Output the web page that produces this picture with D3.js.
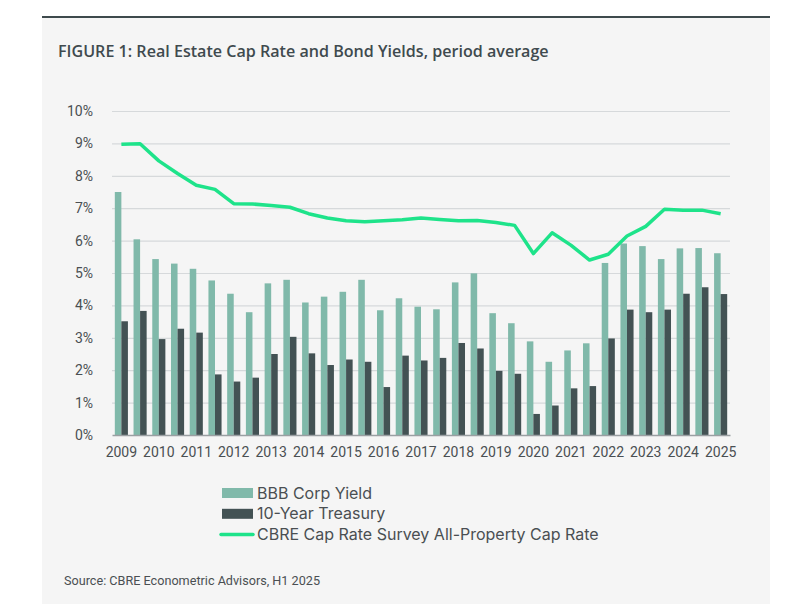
<!DOCTYPE html>
<html><head>
<meta charset="utf-8">
<script src="https://d3js.org/d3.v7.min.js"></script>
<style>
  body { margin: 0; background: #fff; }
  .grid line { stroke: #d6d9db; stroke-width: 1.2; }
  .grid .domain { stroke: none; }
  .tick text { fill: #4a4f52; font-family: Roboto, sans-serif; font-size: 14px; }
  .axis .domain { stroke: #9a9fa2; stroke-width: 1.5; }
  .axis .tick line { stroke: none; }
</style>
</head>
<body>
<svg id="chart" width="800" height="604"></svg>
<script>
// half-year periods, 2009 H1 .. 2025 H1
let periods = [];
for (let y = 2009; y <= 2025; y++) {
  periods.push(y + " H1");
  if (y < 2025) periods.push(y + " H2");
}
let yearLabels = ["2009","2010","2011","2012","2013","2014","2015","2016","2017",
                  "2018","2019","2020","2021","2022","2023","2024","2025"];

let bbbYield = [7.50, 6.04, 5.43, 5.29, 5.13, 4.77, 4.36, 3.79, 4.68, 4.79, 4.09, 4.27,
                4.42, 4.79, 3.85, 4.22, 3.96, 3.88, 4.71, 4.99, 3.76, 3.45, 2.89, 2.26,
                2.61, 2.83, 5.31, 5.91, 5.83, 5.43, 5.76, 5.77, 5.61];
let treasury = [3.51, 3.83, 2.96, 3.28, 3.16, 1.87, 1.65, 1.77, 2.50, 3.03, 2.52, 2.16,
                2.33, 2.26, 1.48, 2.45, 2.30, 2.38, 2.84, 2.67, 1.98, 1.89, 0.65, 0.91,
                1.44, 1.51, 2.98, 3.87, 3.79, 3.87, 4.36, 4.56, 4.35];
let capRate = [8.97, 8.99, 8.46, 8.07, 7.71, 7.58, 7.14, 7.13, 7.08, 7.03, 6.83, 6.70,
               6.61, 6.58, 6.61, 6.64, 6.70, 6.65, 6.61, 6.62, 6.56, 6.47, 5.60, 6.24,
               5.86, 5.40, 5.58, 6.14, 6.44, 6.97, 6.94, 6.94, 6.83];
let yTicks = [0, 1, 2, 3, 4, 5, 6, 7, 8, 9, 10];

let seriesNames = ["BBB Corp Yield", "10-Year Treasury", "CBRE Cap Rate Survey All-Property Cap Rate"];
let colors = { bbb: "#80b9aa", tsy: "#435254", cap: "#1ee38a" };

let svg = d3.select("svg#chart");

// panel background + top rule
svg.append("rect").attr("x", 42).attr("y", 17).attr("width", 728).attr("height", 587)
  .attr("fill", "#f5f5f5");
svg.append("line").attr("x1", 42).attr("x2", 770).attr("y1", 17).attr("y2", 17)
  .attr("stroke", "#3e4a4d").attr("stroke-width", 2);

svg.append("text").attr("x", 58).attr("y", 57)
  .style("font-family", "'Open Sans', sans-serif").style("font-size", "16.1px").style("font-weight", 600)
  .style("fill", "#3f4a4e")
  .text("FIGURE 1: Real Estate Cap Rate and Bond Yields, period average");

let margin = { left: 112, top: 111, right: 70, bottom: 169 };
let chartWidth = 800 - margin.left - margin.right;
let chartHeight = 604 - margin.top - margin.bottom;

let chart = svg.append("g").attr("transform", "translate(" + margin.left + "," + margin.top + ")");

let x0 = d3.scaleBand().domain(periods).range([0, chartWidth]).paddingInner(0.3).paddingOuter(0.15);
let x1 = d3.scaleBand().domain(["bbb", "tsy"]).range([0, x0.bandwidth()]);
let y = d3.scaleLinear().domain([0, 10]).range([chartHeight, 0]);

// gridlines
chart.append("g").attr("class", "grid")
  .call(d3.axisLeft(y).tickValues(yTicks.slice(1)).tickSize(-chartWidth).tickFormat(""));

// y labels
let yAxis = chart.append("g").attr("class", "axis")
  .attr("transform", "translate(-16,0)")
  .call(d3.axisLeft(y).tickValues(yTicks).tickSize(0).tickFormat(d => d + "%"));
yAxis.select(".domain").remove();

// bars
let groups = chart.selectAll(".period").data(periods).enter().append("g")
  .attr("transform", d => "translate(" + x0(d) + ",0)");
groups.append("rect")
  .attr("x", x1("bbb")).attr("width", x1.bandwidth())
  .attr("y", (d, i) => y(bbbYield[i])).attr("height", (d, i) => chartHeight - y(bbbYield[i]))
  .attr("fill", colors.bbb);
groups.append("rect")
  .attr("x", x1("tsy")).attr("width", x1.bandwidth())
  .attr("y", (d, i) => y(treasury[i])).attr("height", (d, i) => chartHeight - y(treasury[i]))
  .attr("fill", colors.tsy);

// x axis: label only the H1 periods with the year
let xAxis = chart.append("g").attr("class", "axis")
  .attr("transform", "translate(0," + chartHeight + ")")
  .call(d3.axisBottom(x0).tickSize(0).tickPadding(12)
    .tickValues(yearLabels.map(yr => yr + " H1"))
    .tickFormat(d => d.slice(0, 4)));

// cap rate line
let line = d3.line()
  .x((d, i) => x0(periods[i]) + x0.bandwidth() / 2)
  .y(d => y(d));
chart.append("path").datum(capRate)
  .attr("d", line).attr("fill", "none")
  .attr("stroke", colors.cap).attr("stroke-width", 3.5).attr("stroke-linejoin", "round");

// legend
let legend = svg.append("g").attr("transform", "translate(221,493)");
let legendItems = [
  { name: seriesNames[0], type: "bar", color: colors.bbb },
  { name: seriesNames[1], type: "bar", color: colors.tsy },
  { name: seriesNames[2], type: "line", color: colors.cap }
];
legendItems.forEach((it, i) => {
  let g = legend.append("g").attr("transform", "translate(0," + (i * 20.8) + ")");
  if (it.type === "bar") {
    g.append("rect").attr("x", 1).attr("y", -5).attr("width", 31).attr("height", 10).attr("fill", it.color);
  } else {
    g.append("line").attr("x1", 0).attr("x2", 32).attr("y1", 0).attr("y2", 0)
      .attr("stroke", it.color).attr("stroke-width", 3.5).attr("stroke-linecap", "round");
  }
  g.append("text").attr("x", 36).attr("y", 0).attr("dy", "0.35em")
    .style("font-family", "Inter, Roboto, sans-serif").style("font-size", "16px").style("fill", "#4a4f52")
    .text(it.name);
});

// source note (condensed face in the original, so squeeze it to the same width)
svg.append("text").attr("x", 64).attr("y", 585)
  .attr("textLength", 256).attr("lengthAdjust", "spacingAndGlyphs")
  .style("font-family", "Roboto, sans-serif")
  .style("font-size", "13.5px").style("fill", "#4a4f52")
  .text("Source: CBRE Econometric Advisors, H1 2025");
</script>
</body>
</html>
